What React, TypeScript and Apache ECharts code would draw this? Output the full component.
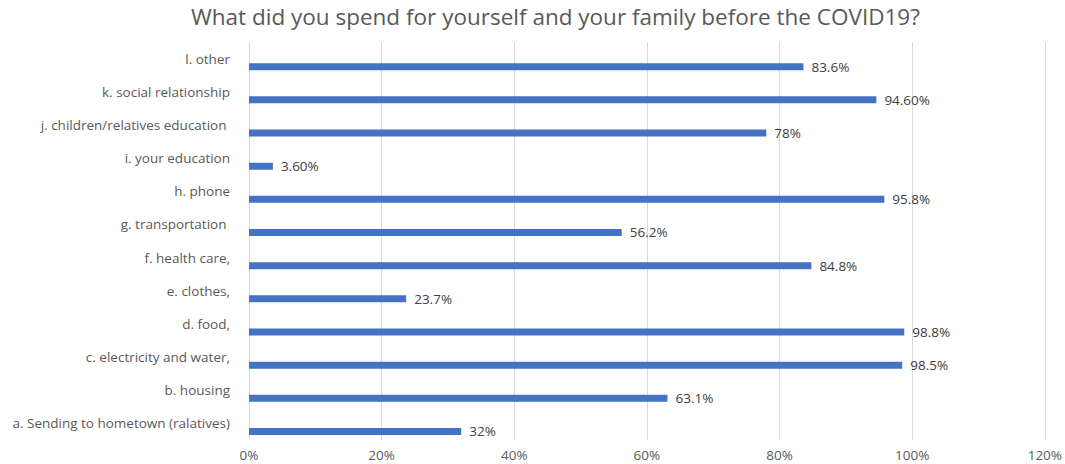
import React, { useEffect, useRef } from "react";
import * as echarts from "echarts";

const categories = [
  "l. other",
  "k. social relationship",
  "j. children/relatives education ",
  "i. your education",
  "h. phone",
  "g. transportation ",
  "f. health care,",
  "e. clothes,",
  "d. food,",
  "c. electricity and water,",
  "b. housing",
  "a. Sending to hometown (ralatives)",
];
const values = [83.6, 94.6, 78, 3.6, 95.8, 56.2, 84.8, 23.7, 98.8, 98.5, 63.1, 32];
const valueLabels = ["83.6%", "94.60%", "78%", "3.60%", "95.8%", "56.2%", "84.8%", "23.7%", "98.8%", "98.5%", "63.1%", "32%"];
const xTicks = [0, 20, 40, 60, 80, 100, 120];

export default function App() {
  const ref = useRef<HTMLDivElement>(null);
  useEffect(() => {
    if (!ref.current) return;
    const chart = echarts.init(ref.current, null, { renderer: "svg" });
    const font = "'Open Sans', 'Noto Sans', sans-serif";
    chart.setOption({
      animation: false,
      backgroundColor: "#ffffff",
      title: {
        text: "What did you spend for yourself and your family before the COVID19?",
        left: 186,
        top: 0,
        textStyle: { fontFamily: font, fontSize: 22.5, fontWeight: "normal", color: "#595959" },
      },
      grid: { left: 249, right: 18, top: 42, bottom: 24, containLabel: false },
      xAxis: {
        type: "value",
        min: xTicks[0],
        max: xTicks[xTicks.length - 1],
        interval: 20,
        axisLine: { show: false },
        axisTick: { show: false },
        splitLine: { lineStyle: { color: "#d9d9d9", width: 1 } },
        axisLabel: {
          formatter: (v: number) => v + "%",
          fontFamily: font,
          fontSize: 13.5,
          color: "#595959",
          margin: 8,
        },
      },
      yAxis: {
        type: "category",
        data: categories,
        inverse: true,
        axisLine: { show: false },
        axisTick: { show: false },
        axisLabel: { fontFamily: font, fontSize: 13.5, color: "#595959", margin: 19 },
      },
      series: [
        {
          type: "bar",
          data: categories.map(() => "-"),
          barWidth: 7,
          barGap: "130%",
        },
        {
          type: "bar",
          data: values,
          barWidth: 7,
          barGap: "130%",
          itemStyle: { color: "#4472C4" },
          label: {
            show: true,
            position: "right",
            distance: 8,
            formatter: (p: any) => valueLabels[p.dataIndex],
            fontFamily: font,
            fontSize: 13.5,
            color: "#404040",
          },
        },
      ],
    });
    return () => chart.dispose();
  }, []);
  return (
    <div
      ref={ref}
      style={{ position: "absolute", left: 0, top: 0, width: 1065, height: 464 }}
    />
  );
}
